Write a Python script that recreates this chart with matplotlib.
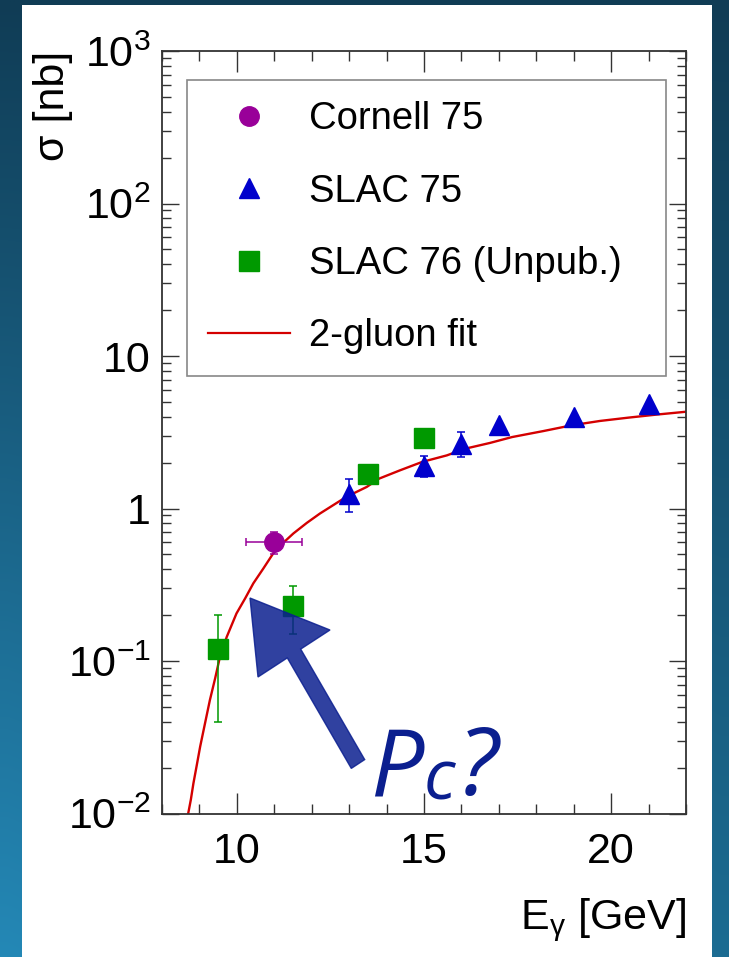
import numpy as np
import matplotlib
matplotlib.use("Agg")
import matplotlib.pyplot as plt
from matplotlib.lines import Line2D
from matplotlib.patches import Rectangle, Polygon
from matplotlib.ticker import (FixedLocator, FixedFormatter, MultipleLocator,
                               LogLocator, NullFormatter)

plt.rcParams["font.family"] = ["Liberation Sans", "DejaVu Sans"]
plt.rcParams["mathtext.fontset"] = "custom"
plt.rcParams["mathtext.rm"] = "Liberation Sans"
plt.rcParams["mathtext.it"] = "Liberation Sans:italic"
plt.rcParams["mathtext.default"] = "regular"

# ── Data ───────────────────────────────────────────────────────────
cornell_e = [11.0]
cornell_e_err = [0.75]
cornell_sigma = [0.6]
cornell_sigma_err = [0.1]

slac75_e = [13.0, 15.0, 16.0, 17.0, 19.0, 21.0]
slac75_sigma = [1.25, 1.9, 2.66, 3.55, 3.98, 4.82]
slac75_sigma_err = [0.3, 0.3, 0.5, 0.0, 0.0, 0.0]

slac76_e = [9.5, 11.5, 13.5, 15.0]
slac76_sigma = [0.12, 0.23, 1.68, 2.9]
slac76_sigma_err = [0.08, 0.08, 0.15, 0.2]

# 2-gluon fit curve, sampled along the drawn line
fit_e = [8.70, 8.77, 8.84, 8.93, 9.02, 9.15, 9.28, 9.42, 9.55, 9.73, 9.99,
         10.22, 10.44, 10.71, 10.97, 11.24, 11.51, 11.87, 12.22, 12.92,
         13.47, 13.80, 14.36, 14.95, 15.61, 16.11, 16.76, 17.35, 18.19,
         18.94, 19.70, 20.45, 21.22, 22.0]
fit_sigma = [0.01, 0.0123, 0.0158, 0.0208, 0.0275, 0.0391, 0.0555, 0.077,
             0.107, 0.144, 0.205, 0.257, 0.323, 0.405, 0.507, 0.596, 0.686,
             0.805, 0.927, 1.19, 1.385, 1.57, 1.78, 2.02, 2.23, 2.47, 2.69,
             2.94, 3.22, 3.51, 3.75, 3.94, 4.13, 4.31]

y_ticks = [1e-2, 1e-1, 1, 10, 1e2, 1e3]
y_tick_labels = [r"$10^{-2}$", r"$10^{-1}$", "1", "10", r"$10^{2}$", r"$10^{3}$"]

# ── Colours ────────────────────────────────────────────────────────
C_CORNELL = "#990099"
C_SLAC75 = "#0000cc"
C_SLAC76 = "#009900"
C_FIT = "#d40000"
C_NOTE = "#0b1f8f"

W, H = 729, 957
fig = plt.figure(figsize=(W / 100, H / 100), dpi=100)

# ── Slide background: gradient border + white panel ───────────────
bg = fig.add_axes([0, 0, 1, 1])
top = np.array([0x10, 0x3c, 0x55]) / 255
bot_l = np.array([0x24, 0x88, 0xb6]) / 255
bot_r = np.array([0x1c, 0x6c, 0x92]) / 255
ty = np.linspace(0, 1, 200)[:, None, None]
tx = np.linspace(0, 1, 50)[None, :, None]
bottom = bot_l * (1 - tx) + bot_r * tx
grad = top * (1 - ty) + bottom * ty
bg.imshow(grad, extent=[0, 1, 0, 1], aspect="auto", interpolation="bilinear")
bg.add_patch(Rectangle((22 / W, 0), (712 - 22) / W, 1 - 5 / H,
                       facecolor="white", edgecolor="none"))
bg.set_xlim(0, 1)
bg.set_ylim(0, 1)
bg.axis("off")

# ── Main plot ──────────────────────────────────────────────────────
ax = fig.add_axes([162 / W, 1 - 813.5 / H, 524 / W, 762.5 / H])
ax.set_yscale("log")
ax.set_xlim(8, 22)
ax.set_ylim(1e-2, 1e3)

ax.plot(fit_e, fit_sigma, color=C_FIT, lw=1.7, zorder=2,
        solid_joinstyle="round")

eb_kw = dict(ls="none", elinewidth=1.1, capsize=3, capthick=1.1, zorder=3)
ax.errorbar(cornell_e, cornell_sigma, xerr=cornell_e_err, yerr=cornell_sigma_err,
            marker="o", ms=14, color=C_CORNELL, **eb_kw)
ax.errorbar(slac75_e, slac75_sigma, yerr=slac75_sigma_err,
            marker="^", ms=15, color=C_SLAC75, **eb_kw)
ax.errorbar(slac76_e, slac76_sigma, yerr=slac76_sigma_err,
            marker="s", ms=14, color=C_SLAC76, **eb_kw)

# ── Axes styling (ROOT look) ───────────────────────────────────────
ax.xaxis.set_major_locator(MultipleLocator(5))
ax.xaxis.set_minor_locator(MultipleLocator(1))
ax.yaxis.set_major_locator(FixedLocator(y_ticks))
ax.yaxis.set_major_formatter(FixedFormatter(y_tick_labels))
ax.yaxis.set_minor_locator(LogLocator(base=10, subs=np.arange(2, 10)))
ax.yaxis.set_minor_formatter(NullFormatter())

for s in ax.spines.values():
    s.set_color("#333333")
    s.set_linewidth(1.3)
ax.tick_params(which="both", direction="in", top=True, right=True,
               color="#333333", width=1.0, labelsize=31)
ax.tick_params(axis="x", which="major", length=15, pad=13)
ax.tick_params(axis="x", which="minor", length=7)
ax.tick_params(axis="y", which="major", length=12, pad=8)
ax.tick_params(axis="y", which="minor", length=6.5)

ax.set_ylabel("σ [nb]", fontsize=31, loc="top")
ax.yaxis.set_label_coords(-0.17, 1.0)
ax.set_xlabel(r"E$_{γ}$ [GeV]", fontsize=31, loc="right")
ax.xaxis.set_label_coords(1.0, -0.109)

# ── Legend ─────────────────────────────────────────────────────────
legend_elements = [
    Line2D([], [], ls="none", marker="o", ms=14, color=C_CORNELL, label="Cornell 75"),
    Line2D([], [], ls="none", marker="^", ms=15, color=C_SLAC75, label="SLAC 75"),
    Line2D([], [], ls="none", marker="s", ms=14, color=C_SLAC76, label="SLAC 76 (Unpub.)"),
    Line2D([], [], color=C_FIT, lw=1.6, label="2-gluon fit"),
]
leg = ax.legend(handles=legend_elements, loc="upper left",
                bbox_to_anchor=(0.0471, 0.6079, 0.9147, 0.3541), mode="expand",
                fontsize=27.5, frameon=True, fancybox=False, framealpha=1,
                edgecolor="#888888", borderpad=0.56, labelspacing=0.95,
                handlelength=2.15, handletextpad=0.48, borderaxespad=0)
leg.get_frame().set_linewidth(1.2)

# ── Hand-drawn "Pc?" arrow ─────────────────────────────────────────
arrow_px = [(250, 598), (330, 630), (300.7, 649.1), (364.7, 759.6),
            (351.3, 768.4), (287.3, 657.9), (258, 677)]
arrow = Polygon([(x / W, 1 - y / H) for x, y in arrow_px], closed=True,
                transform=fig.transFigure, facecolor=C_NOTE, edgecolor=C_NOTE,
                lw=1.0, alpha=0.85, zorder=5)
fig.patches.append(arrow)

note_kw = dict(color=C_NOTE, family=["Open Sans", "DejaVu Sans"], style="italic",
               va="baseline", ha="left", transform=fig.transFigure, zorder=6)
fig.text(370 / W, 1 - 795 / H, "P", fontsize=68, **note_kw)
fig.text(424 / W, 1 - 800 / H, "c", fontsize=50, **note_kw)
fig.text(458 / W, 1 - 795 / H, "?", fontsize=68, **note_kw)

fig.savefig("out.png", dpi=100)
